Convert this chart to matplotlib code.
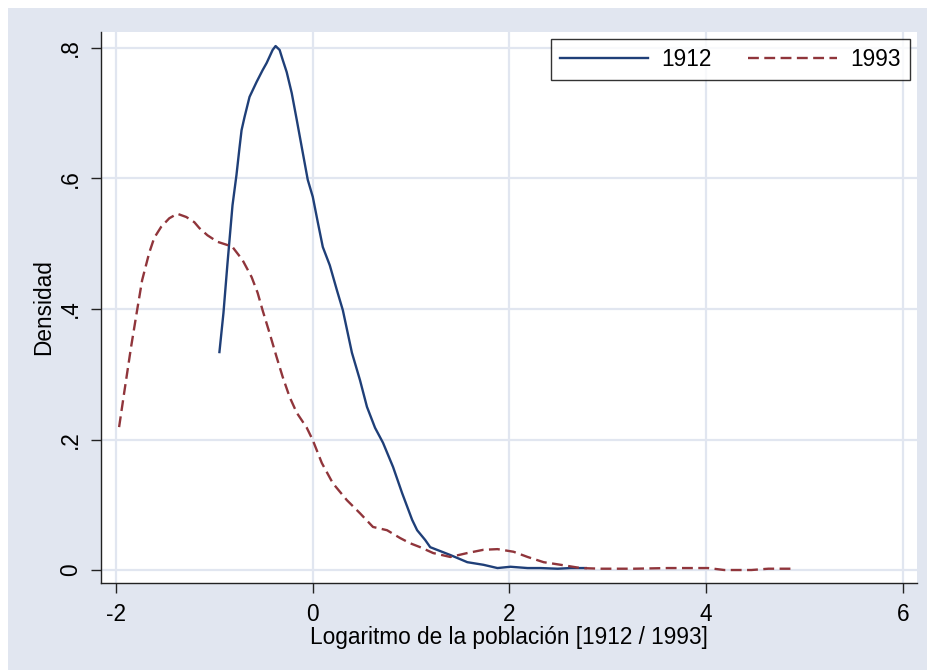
import numpy as np
import matplotlib
matplotlib.use("Agg")
import matplotlib.pyplot as plt
from matplotlib.patches import Rectangle

# kernel density curves (log of population)
x_1912 = [-0.949, -0.908, -0.867, -0.816, -0.776, -0.745, -0.724, -0.694, -0.643,
          -0.571, -0.510, -0.469, -0.408, -0.378, -0.337, -0.306, -0.265, -0.214,
          -0.163, -0.112, -0.051, 0.0, 0.051, 0.102, 0.173, 0.245, 0.306, 0.398,
          0.480, 0.551, 0.633, 0.714, 0.816, 0.908, 1.010, 1.061, 1.143, 1.194,
          1.398, 1.571, 1.735, 1.878, 2.010, 2.184, 2.316, 2.490, 2.622, 2.776]
y_1912 = [0.334, 0.394, 0.470, 0.559, 0.605, 0.647, 0.674, 0.694, 0.725,
          0.748, 0.766, 0.777, 0.797, 0.803, 0.797, 0.782, 0.763, 0.731,
          0.690, 0.648, 0.598, 0.572, 0.533, 0.495, 0.467, 0.429, 0.398, 0.333,
          0.291, 0.250, 0.218, 0.195, 0.158, 0.118, 0.077, 0.061, 0.046, 0.035,
          0.023, 0.012, 0.008, 0.003, 0.005, 0.003, 0.003, 0.002, 0.003, 0.003]

x_1993 = [-1.969, -1.918, -1.847, -1.786, -1.735, -1.663, -1.612, -1.541, -1.459,
          -1.378, -1.286, -1.204, -1.153, -1.071, -0.969, -0.867, -0.816, -0.714,
          -0.622, -0.561, -0.510, -0.439, -0.367, -0.306, -0.235, -0.163, -0.061,
          0.0, 0.092, 0.204, 0.347, 0.480, 0.612, 0.755, 0.888, 0.990, 1.092,
          1.224, 1.398, 1.571, 1.735, 1.878, 2.041, 2.184, 2.347, 2.520, 2.724,
          2.929, 3.265, 3.612, 4.020, 4.184, 4.459, 4.633, 4.867]
y_1993 = [0.219, 0.271, 0.342, 0.398, 0.444, 0.486, 0.509, 0.526, 0.539,
          0.546, 0.541, 0.533, 0.524, 0.513, 0.503, 0.498, 0.495, 0.475,
          0.449, 0.425, 0.398, 0.363, 0.326, 0.296, 0.265, 0.241, 0.218,
          0.199, 0.164, 0.133, 0.107, 0.087, 0.066, 0.061, 0.049, 0.041, 0.035,
          0.026, 0.020, 0.026, 0.031, 0.032, 0.028, 0.020, 0.012, 0.008, 0.003,
          0.002, 0.002, 0.003, 0.003, 0.0, 0.0, 0.002, 0.002]

xticks = [-2, 0, 2, 4, 6]
yticks = [0, 0.2, 0.4, 0.6, 0.8]
ytick_labels = ["0", ".2", ".4", ".6", ".8"]

bg = "#e1e6f0"
grid_c = "#e1e6f0"
navy = "#1f3f78"
maroon = "#90353b"

plt.rcParams["font.family"] = ["Liberation Sans", "DejaVu Sans"]
plt.rcParams["axes.unicode_minus"] = False

fig = plt.figure(figsize=(9.28, 6.70), dpi=100)
fig.patch.set_facecolor("white")
fig.patches.append(Rectangle((8 / 928, 0), 1, 1 - 8 / 670, transform=fig.transFigure,
                             facecolor=bg, edgecolor="none", zorder=-10))

ax = fig.add_axes([101 / 928, 87 / 670, 816 / 928, 551 / 670])
ax.set_facecolor("white")

ax.plot(x_1912, y_1912, color=navy, lw=1.7, label="1912")
ax.plot(x_1993, y_1993, color=maroon, lw=1.7, dashes=(4.6, 2.3), label="1993")

ax.set_xlim(-2.153, 6.143)
ax.set_ylim(-0.0199, 0.8245)
ax.set_xticks(xticks)
ax.set_yticks(yticks)
ax.set_yticklabels(ytick_labels, rotation=90, va="center")
ax.grid(True, color=grid_c, lw=1.6)
ax.set_axisbelow(True)

for s in ["top", "right"]:
    ax.spines[s].set_visible(False)
for s in ["left", "bottom"]:
    ax.spines[s].set_color("#222222")
    ax.spines[s].set_linewidth(1.0)

fs = 16.3
ax.tick_params(axis="both", length=7.5, width=1.0, color="#222222", labelsize=fs)
ax.tick_params(axis="x", pad=7)
ax.tick_params(axis="y", pad=6)

ax.set_xlabel("Logaritmo de la población [1912 / 1993]", fontsize=fs, labelpad=0)
ax.set_ylabel("Densidad", fontsize=fs, labelpad=3)

leg = ax.legend(loc="upper right", bbox_to_anchor=(0.991, 0.987), ncol=2,
                fontsize=fs, frameon=True, fancybox=False, handlelength=3.9,
                handletextpad=0.6, columnspacing=1.6, borderpad=0.4,
                borderaxespad=0)
leg.get_frame().set_edgecolor("black")
leg.get_frame().set_linewidth(1.0)

fig.savefig("out.png", dpi=100)
